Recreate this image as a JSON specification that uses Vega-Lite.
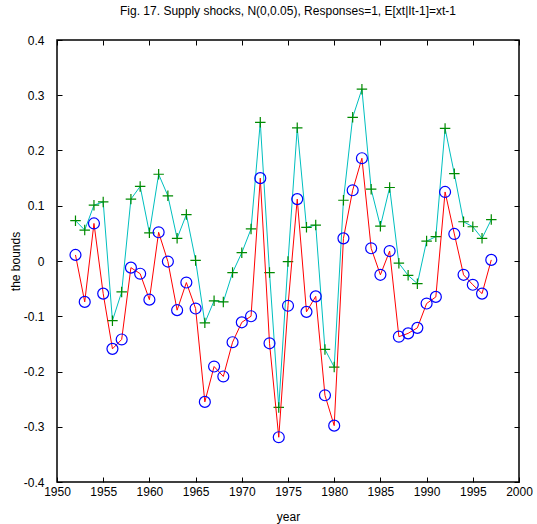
{
  "$schema": "https://vega.github.io/schema/vega-lite/v6.json",
  "autosize": {"type": "none"},
  "width": 462,
  "height": 442,
  "padding": {"left": 57, "top": 40, "right": 18, "bottom": 42},
  "background": "white",
  "title": {"text": "Fig. 17. Supply shocks, N(0,0.05), Responses=1, E[xt|It-1]=xt-1", "font": "Liberation Sans", "fontSize": 12, "fontWeight": "normal", "color": "black", "offset": 16, "anchor": "middle"},
  "config": {
    "view": {"stroke": "black", "strokeWidth": 1.5},
    "axis": {"grid": false, "domain": false, "tickColor": "black", "tickSize": -5, "labelFont": "Liberation Sans", "labelFontSize": 12, "labelColor": "black", "titleFont": "Liberation Sans", "titleFontSize": 12, "titleFontWeight": "normal", "titleColor": "black", "labelPadding": 9, "labelFlush": false, "labelOverlap": false}
  },
  "data": {"values": [
    {"year": 1952, "upper": 0.073, "lower": 0.011},
    {"year": 1953, "upper": 0.056, "lower": -0.074},
    {"year": 1954, "upper": 0.101, "lower": 0.068},
    {"year": 1955, "upper": 0.107, "lower": -0.059},
    {"year": 1956, "upper": -0.108, "lower": -0.159},
    {"year": 1957, "upper": -0.056, "lower": -0.142},
    {"year": 1958, "upper": 0.112, "lower": -0.012},
    {"year": 1959, "upper": 0.135, "lower": -0.023},
    {"year": 1960, "upper": 0.051, "lower": -0.070},
    {"year": 1961, "upper": 0.157, "lower": 0.052},
    {"year": 1962, "upper": 0.118, "lower": -0.001},
    {"year": 1963, "upper": 0.041, "lower": -0.089},
    {"year": 1964, "upper": 0.084, "lower": -0.039},
    {"year": 1965, "upper": 0.001, "lower": -0.086},
    {"year": 1966, "upper": -0.112, "lower": -0.255},
    {"year": 1967, "upper": -0.072, "lower": -0.191},
    {"year": 1968, "upper": -0.074, "lower": -0.209},
    {"year": 1969, "upper": -0.021, "lower": -0.147},
    {"year": 1970, "upper": 0.015, "lower": -0.111},
    {"year": 1971, "upper": 0.058, "lower": -0.100},
    {"year": 1972, "upper": 0.251, "lower": 0.150},
    {"year": 1973, "upper": -0.021, "lower": -0.149},
    {"year": 1974, "upper": -0.265, "lower": -0.319},
    {"year": 1975, "upper": -0.001, "lower": -0.081},
    {"year": 1976, "upper": 0.241, "lower": 0.112},
    {"year": 1977, "upper": 0.061, "lower": -0.092},
    {"year": 1978, "upper": 0.065, "lower": -0.064},
    {"year": 1979, "upper": -0.160, "lower": -0.243},
    {"year": 1980, "upper": -0.192, "lower": -0.298},
    {"year": 1981, "upper": 0.110, "lower": 0.041},
    {"year": 1982, "upper": 0.260, "lower": 0.128},
    {"year": 1983, "upper": 0.311, "lower": 0.186},
    {"year": 1984, "upper": 0.130, "lower": 0.023},
    {"year": 1985, "upper": 0.063, "lower": -0.025},
    {"year": 1986, "upper": 0.133, "lower": 0.018},
    {"year": 1987, "upper": -0.004, "lower": -0.137},
    {"year": 1988, "upper": -0.026, "lower": -0.131},
    {"year": 1989, "upper": -0.041, "lower": -0.121},
    {"year": 1990, "upper": 0.036, "lower": -0.077},
    {"year": 1991, "upper": 0.044, "lower": -0.065},
    {"year": 1992, "upper": 0.240, "lower": 0.125},
    {"year": 1993, "upper": 0.158, "lower": 0.049},
    {"year": 1994, "upper": 0.071, "lower": -0.025},
    {"year": 1995, "upper": 0.062, "lower": -0.043},
    {"year": 1996, "upper": 0.041, "lower": -0.059},
    {"year": 1997, "upper": 0.075, "lower": 0.002}
  ]},
  "layer": [
    {
      "mark": {"type": "rule", "strokeWidth": 0},
      "encoding": {
        "x": {"field": "year", "type": "quantitative", "scale": {"domain": [1950, 2000], "nice": false, "zero": false},
              "axis": {"orient": "top", "labels": false, "title": null, "values": [1950,1955,1960,1965,1970,1975,1980,1985,1990,1995,2000]}},
        "y": {"field": "upper", "type": "quantitative", "scale": {"domain": [-0.4, 0.4], "nice": false, "zero": false},
              "axis": {"orient": "right", "labels": false, "title": null, "values": [-0.4,-0.3,-0.2,-0.1,0,0.1,0.2,0.3,0.4]}}
      }
    },
    {
      "mark": {"type": "line", "color": "#00BFBF", "strokeWidth": 1},
      "encoding": {
        "x": {"field": "year", "type": "quantitative",
              "axis": {"orient": "bottom", "title": "year", "titlePadding": 14, "format": "d", "values": [1950,1955,1960,1965,1970,1975,1980,1985,1990,1995,2000]}},
        "y": {"field": "upper", "type": "quantitative",
              "axis": {"orient": "left", "title": "the bounds", "titlePadding": 1, "labelPadding": 18, "values": [-0.4,-0.3,-0.2,-0.1,0,0.1,0.2,0.3,0.4],
                       "labelExpr": "replace(format(datum.value, '.1~f'), '\u2212', '-')"}}
      }
    },
    {
      "mark": {"type": "point", "shape": "M-1,0H1M0,-1V1", "size": 110, "filled": false, "color": "#008A00", "strokeWidth": 1.2, "opacity": 1},
      "encoding": {
        "x": {"field": "year", "type": "quantitative", "axis": null},
        "y": {"field": "upper", "type": "quantitative", "axis": null}
      }
    },
    {
      "mark": {"type": "line", "color": "#FF0000", "strokeWidth": 1},
      "encoding": {
        "x": {"field": "year", "type": "quantitative", "axis": null},
        "y": {"field": "lower", "type": "quantitative", "axis": null}
      }
    },
    {
      "mark": {"type": "point", "shape": "circle", "size": 120, "filled": false, "color": "#0000FF", "strokeWidth": 1.2, "opacity": 1},
      "encoding": {
        "x": {"field": "year", "type": "quantitative", "axis": null},
        "y": {"field": "lower", "type": "quantitative", "axis": null}
      }
    }
  ],
  "resolve": {"axis": {"x": "independent", "y": "independent"}}
}
